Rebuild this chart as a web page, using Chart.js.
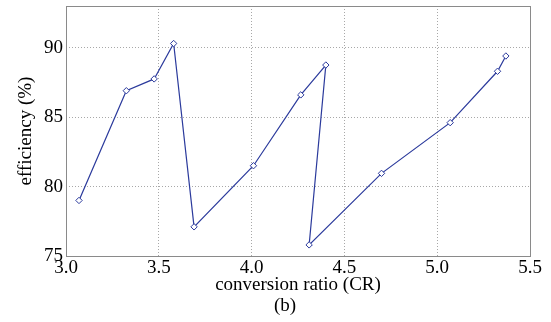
<!DOCTYPE html>
<html>
<head>
<meta charset="utf-8">
<script src="https://cdn.jsdelivr.net/npm/chart.js@4"></script>
<style>
  html, body { margin: 0; padding: 0; background: #fff; }
  #wrap { position: relative; width: 551px; height: 322px; }
</style>
</head>
<body>
<div id="wrap"><canvas id="c"></canvas></div>
<script>
// 转换比 vs 效率 (b)
const ratio = [3.07, 3.325, 3.475, 3.58, 3.69, 4.01, 4.265, 4.40, 4.31, 4.70, 5.07, 5.325, 5.37];
const efficiency = [79.0, 86.9, 87.75, 90.3, 77.1, 81.5, 86.6, 88.75, 75.8, 80.95, 84.6, 88.3, 89.4];
const xTicks = [3.0, 3.5, 4.0, 4.5, 5.0, 5.5];
const yTicks = [75, 80, 85, 90];

const serif = 'Liberation Serif, Times New Roman, serif';
const blue = '#2b3a9c';
const gridColor = '#a8a8a8';

// 四周边框（MATLAB 风格 box on）+ 子图标号 (b)
const boxPlugin = {
  id: 'box',
  afterDraw(chart) {
    const a = chart.chartArea, ctx = chart.ctx;
    ctx.save();
    ctx.strokeStyle = '#8a8a8a';
    ctx.lineWidth = 1;
    ctx.strokeRect(a.left + 0.5, a.top + 0.5, a.right - a.left, a.bottom - a.top);
    ctx.fillStyle = '#000';
    ctx.font = '19px ' + serif;
    ctx.textAlign = 'center';
    ctx.textBaseline = 'middle';
    ctx.fillText('(b)', 285, 306);
    ctx.restore();
  }
};

new Chart(document.getElementById('c'), {
  type: 'line',
  data: {
    datasets: [{
      data: ratio.map((x, i) => ({ x, y: efficiency[i] })),
      borderColor: blue, borderWidth: 1.2,
      pointStyle: 'rectRot', pointRadius: 3.2, pointBorderWidth: 1,
      pointBackgroundColor: '#fff', pointBorderColor: blue,
      tension: 0, fill: false,
    }],
  },
  options: {
    responsive: true, maintainAspectRatio: false, animation: false,
    layout: { padding: { left: 0, right: 21, top: 6, bottom: 26 } },
    plugins: {
      legend: { display: false },
      tooltip: { enabled: false },
    },
    scales: {
      x: {
        type: 'linear', min: 3.0, max: 5.5,
        afterBuildTicks: (s) => { s.ticks = xTicks.map((v) => ({ value: v })); },
        afterFit: (s) => { s.height = 40; s.paddingLeft = 0; s.paddingRight = 0; },
        ticks: { color: '#000', font: { family: serif, size: 19 }, padding: 1, callback: (v) => v.toFixed(1) },
        grid: { color: gridColor, drawTicks: false },
        border: { display: false, dash: [1, 2] },
        title: { display: true, text: 'conversion ratio (CR)', color: '#000',
                 font: { family: serif, size: 19 }, padding: { top: -4, bottom: 0 } },
      },
      y: {
        type: 'linear', min: 75, max: 93,
        afterBuildTicks: (s) => { s.ticks = yTicks.map((v) => ({ value: v })); },
        afterFit: (s) => { s.width = 66; s.paddingTop = 0; s.paddingBottom = 0; },
        ticks: { color: '#000', font: { family: serif, size: 19 }, padding: 3 },
        grid: { color: gridColor, drawTicks: false },
        border: { display: false, dash: [1, 2] },
        title: { display: true, text: 'efficiency (%)', color: '#000',
                 font: { family: serif, size: 19 }, padding: { top: 15, bottom: 0 } },
      },
    },
  },
  plugins: [boxPlugin],
});
</script>
</body>
</html>
